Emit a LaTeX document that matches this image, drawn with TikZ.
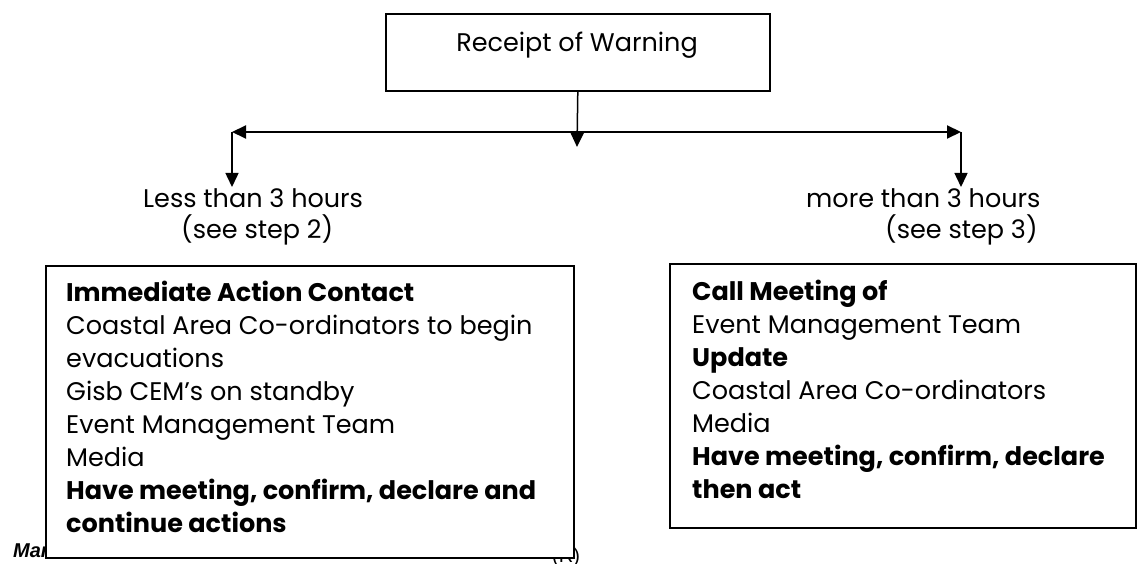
\documentclass[tikz,border=0pt]{standalone}
\usepackage{fontspec}
\setmainfont{Poppins}
\newfontfamily\footfamily{Liberation Sans}
\usetikzlibrary{arrows.meta}
\newcommand\mainfnt{\rmfamily\fontsize{25.5}{33}\selectfont}
\newcommand\footfnt{\footfamily\fontsize{20}{24}\selectfont\bfseries\itshape}
\newcommand\footup{\footfamily\fontsize{20}{24}\selectfont}
\begin{document}
\begin{tikzpicture}[x=1pt,y=-1pt,
  boxst/.style={draw=black, line width=1.6pt, fill=white, inner sep=0pt, anchor=north west},
  txt/.style={inner sep=0pt, anchor=base west, font=\mainfnt},
  conn/.style={line width=1.5pt, -{Triangle[length=14pt,width=13pt]}},
]
\useasboundingbox (0,0) rectangle (1139,564);
% footer text partly hidden by the boxes
\node[inner sep=0pt, anchor=base west, font=\footfnt] (foot) at (13,557) {March 2011};
\node[inner sep=0pt, anchor=base west, font=\footup] (foot2) at (552,562) {(R)};
% top box
\node[boxst, minimum width=384pt, minimum height=77pt] (warn) at (385,13) {};
\node[txt, anchor=base] (warntxt) at (577,52) {Receipt of Warning};
% connectors
\coordinate (hl) at (232,132);
\coordinate (hr) at (961,132);
\coordinate (mid) at (577,147);
\coordinate (ltip) at (232,187);
\coordinate (rtip) at (961,187);
\draw[line width=2pt, {Triangle[length=14pt,width=13pt]}-{Triangle[length=14pt,width=13pt]}] (hl) -- (hr);
\draw[conn] (warn.south) -- (mid);
\draw[conn] (hl) -- (ltip);
\draw[conn] (hr) -- (rtip);
% labels
\node[txt] (lesslab) at (143,207) {Less than 3 hours};
\node[txt] (lessstep) at (181,238) {(see step 2)};
\node[txt] (morelab) at (806,207) {more than 3 hours};
\node[txt] (morestep) at (885,238) {(see step 3)};
% left box
\node[boxst, minimum width=528pt, minimum height=292pt] (lbox) at (45,265) {};
\node[txt] (ltext) at (66,301) {\begin{tabular}[t]{@{}l@{}}
\textbf{Immediate Action Contact}\\
Coastal Area Co-ordinators to begin\\
evacuations\\
Gisb CEM’s on standby\\
Event Management Team\\
Media\\
\textbf{Have meeting, confirm, declare and}\\
\textbf{continue actions}
\end{tabular}};
% right box
\node[boxst, minimum width=466pt, minimum height=264pt] (rbox) at (669,263) {};
\node[txt] (rtext) at (692,300) {\begin{tabular}[t]{@{}l@{}}
\textbf{Call Meeting of}\\
Event Management Team\\
\textbf{Update}\\
Coastal Area Co-ordinators\\
Media\\
\textbf{Have meeting, confirm, declare}\\
\textbf{then act}
\end{tabular}};
\end{tikzpicture}
\end{document}
